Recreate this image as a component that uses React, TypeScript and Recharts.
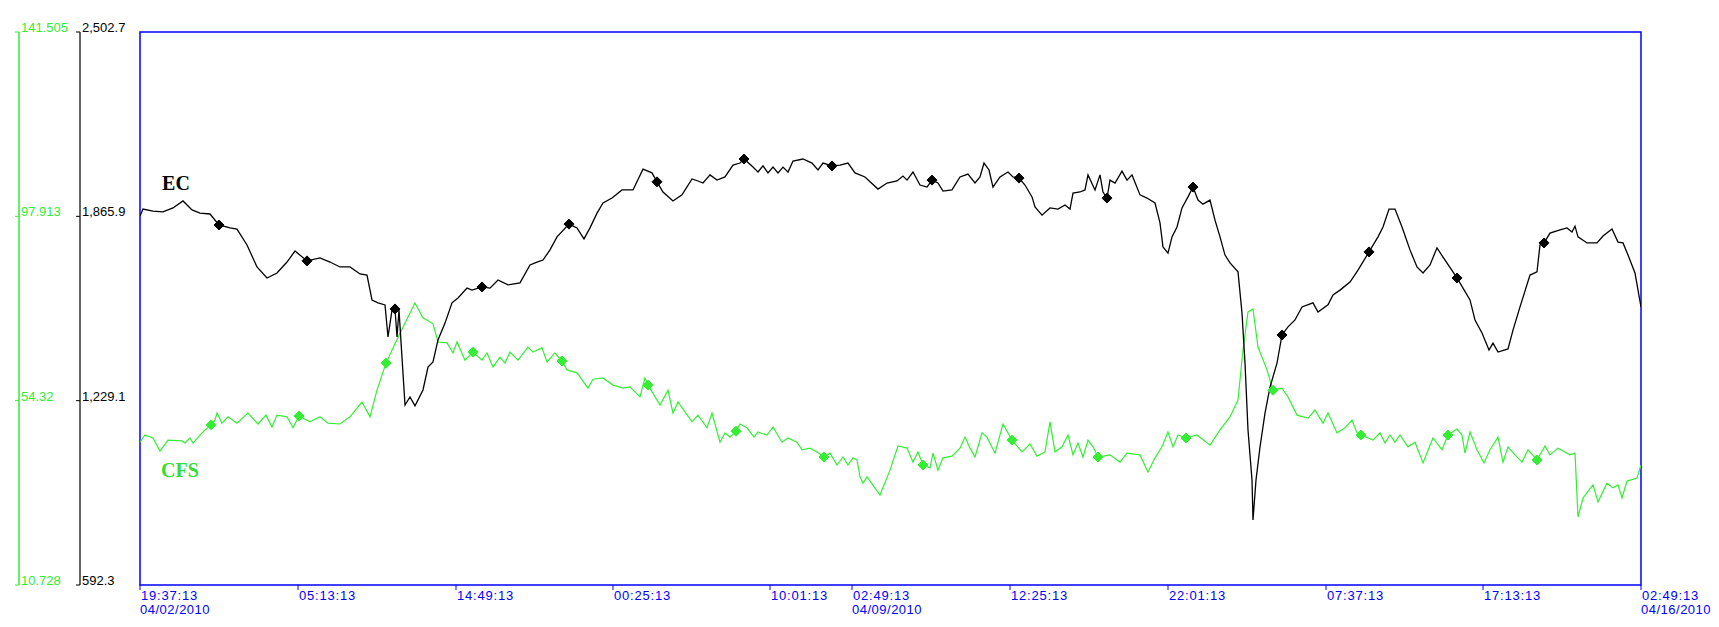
import React from 'react';
import {
  LineChart,
  Line,
  XAxis,
  YAxis,
  ReferenceArea,
  ReferenceDot,
} from 'recharts';

// sample position along the record, value
const ecReadings: [number, number][] = [
  [0, 1867], [3, 1891], [13, 1884], [23, 1881], [33, 1895], [43, 1919], [52, 1888], [60, 1877],
  [70, 1874], [79, 1836], [90, 1826], [97, 1822], [107, 1767], [117, 1691], [127, 1653], [137, 1670],
  [147, 1708], [155, 1746], [167, 1712], [180, 1722], [190, 1708], [200, 1691], [210, 1691], [220, 1667],
  [227, 1663], [232, 1577], [238, 1567], [245, 1560], [248, 1449], [252, 1542], [255, 1546], [257, 1449],
  [259, 1542], [265, 1214], [270, 1242], [275, 1211], [283, 1266], [288, 1345], [293, 1363], [298, 1439],
  [305, 1497], [312, 1567], [318, 1584], [327, 1618], [332, 1611], [342, 1622], [350, 1618], [358, 1646],
  [368, 1629], [380, 1636], [390, 1698], [397, 1708], [403, 1715], [410, 1750], [417, 1795], [429, 1839],
  [437, 1826], [444, 1788], [450, 1826], [457, 1877], [463, 1912], [472, 1929], [482, 1957], [493, 1957],
  [503, 2029], [512, 2016], [517, 1985], [523, 1950], [533, 1919], [542, 1940], [552, 1995], [558, 1988],
  [563, 1981], [570, 2009], [577, 1991], [585, 2002], [593, 2043], [600, 2050], [604, 2064], [613, 2036],
  [618, 2019], [623, 2040], [628, 2016], [633, 2036], [638, 2016], [643, 2036], [648, 2019], [653, 2057],
  [663, 2064], [672, 2050], [678, 2026], [683, 2050], [692, 2040], [700, 2043], [708, 2050], [715, 2016],
  [725, 2002], [738, 1960], [747, 1981], [757, 1988], [763, 2005], [767, 1991], [773, 2019], [780, 1974],
  [787, 1967], [792, 1991], [798, 1981], [803, 1953], [812, 1957], [820, 2002], [828, 2012], [835, 1981],
  [840, 2002], [844, 2050], [849, 2026], [853, 1967], [860, 2002], [868, 2019], [873, 2002], [879, 1998],
  [885, 1974], [892, 1933], [895, 1898], [902, 1870], [910, 1895], [918, 1891], [925, 1905], [930, 1891],
  [933, 1946], [940, 1950], [945, 1957], [948, 2009], [955, 1957], [960, 2009], [963, 1950], [967, 1929],
  [970, 1991], [975, 1981], [982, 2022], [987, 1991], [992, 2009], [1000, 1940], [1007, 1929], [1015, 1912],
  [1020, 1843], [1023, 1760], [1028, 1739], [1032, 1795], [1037, 1829], [1042, 1895], [1048, 1933], [1053, 1967],
  [1058, 1922], [1063, 1908], [1070, 1922], [1075, 1853], [1080, 1795], [1085, 1732], [1090, 1705], [1098, 1674],
  [1102, 1532], [1105, 1359], [1108, 1128], [1112, 955], [1113, 817], [1116, 955], [1120, 1069], [1125, 1186],
  [1130, 1276], [1137, 1359], [1142, 1456], [1148, 1484], [1155, 1508], [1162, 1553], [1173, 1567], [1178, 1535],
  [1188, 1560], [1193, 1594], [1200, 1611], [1210, 1639], [1218, 1680], [1229, 1743], [1238, 1795], [1243, 1829],
  [1249, 1891], [1255, 1891], [1262, 1829], [1270, 1750], [1277, 1691], [1283, 1670], [1290, 1698], [1297, 1757],
  [1303, 1725], [1317, 1653], [1330, 1577], [1335, 1508], [1342, 1463], [1349, 1404], [1353, 1428], [1358, 1397],
  [1368, 1408], [1373, 1473], [1380, 1553], [1390, 1663], [1397, 1674], [1400, 1767], [1404, 1774], [1410, 1808],
  [1420, 1819], [1427, 1826], [1432, 1812], [1435, 1832], [1438, 1795], [1447, 1774], [1457, 1774], [1463, 1798],
  [1472, 1822], [1478, 1777], [1483, 1774], [1488, 1732], [1495, 1670], [1501, 1553],
];

const cfsReadings: [number, number][] = [
  [0, 44.5], [5, 46.2], [13, 45.5], [20, 42.4], [28, 45.0], [42, 44.8], [45, 44.3], [50, 45.5],
  [53, 44.3], [62, 46.7], [71, 48.6], [75, 49.7], [77, 51.4], [82, 49.0], [88, 50.5], [97, 49.0],
  [108, 51.4], [118, 48.8], [126, 50.9], [132, 48.1], [137, 50.9], [147, 50.5], [153, 47.9], [159, 50.7],
  [170, 49.3], [180, 50.5], [188, 49.0], [200, 48.8], [210, 50.5], [222, 54.0], [230, 50.5], [237, 56.8],
  [246, 63.2], [253, 66.8], [263, 71.7], [275, 77.4], [283, 73.9], [293, 72.5], [298, 68.2], [307, 68.0],
  [313, 65.6], [317, 68.2], [325, 63.9], [333, 65.8], [342, 63.9], [347, 65.6], [353, 62.3], [360, 64.6],
  [365, 63.2], [370, 65.8], [378, 63.9], [388, 67.0], [393, 65.8], [402, 66.8], [407, 63.5], [415, 65.6],
  [422, 63.7], [427, 61.6], [437, 60.9], [448, 57.3], [453, 59.4], [463, 59.7], [473, 58.0], [483, 57.3],
  [490, 57.6], [500, 55.2], [505, 59.7], [508, 58.0], [520, 53.3], [528, 56.8], [533, 51.4], [538, 54.0],
  [552, 49.3], [558, 50.9], [567, 47.9], [572, 51.4], [580, 44.5], [585, 46.7], [590, 45.7], [596, 47.1],
  [600, 48.8], [607, 47.9], [614, 45.7], [618, 46.9], [627, 46.2], [633, 48.1], [642, 44.5], [648, 45.5],
  [657, 44.5], [662, 42.7], [670, 43.1], [677, 42.2], [684, 41.0], [690, 41.9], [697, 39.1], [703, 41.0],
  [708, 39.1], [713, 40.8], [717, 40.3], [720, 36.3], [723, 34.8], [727, 36.3], [740, 32.0], [750, 37.9],
  [758, 43.6], [767, 43.1], [773, 39.8], [778, 42.2], [783, 39.1], [790, 38.4], [793, 41.9], [798, 37.9],
  [803, 40.8], [812, 41.2], [820, 43.1], [825, 45.7], [830, 43.1], [835, 41.0], [842, 46.7], [847, 45.7],
  [855, 41.9], [863, 48.8], [872, 45.0], [882, 42.2], [890, 44.1], [897, 41.2], [905, 42.2], [910, 49.3],
  [915, 42.2], [922, 43.4], [928, 46.2], [933, 41.5], [938, 44.3], [943, 41.0], [948, 45.0], [953, 43.4],
  [958, 41.0], [970, 41.5], [980, 39.8], [987, 41.9], [1000, 41.5], [1008, 37.4], [1015, 40.8], [1022, 43.4],
  [1028, 46.9], [1033, 43.4], [1038, 46.2], [1046, 45.5], [1057, 46.2], [1070, 43.8], [1080, 47.4], [1090, 50.5],
  [1098, 54.5], [1103, 66.3], [1108, 75.3], [1113, 76.0], [1118, 67.0], [1127, 61.6], [1133, 56.8], [1142, 57.3],
  [1148, 55.2], [1157, 50.9], [1168, 50.2], [1175, 52.1], [1183, 49.0], [1188, 51.4], [1197, 46.7], [1205, 47.9],
  [1212, 49.7], [1217, 46.7], [1221, 46.2], [1233, 45.0], [1240, 46.7], [1245, 44.3], [1250, 46.2], [1255, 44.5],
  [1260, 46.2], [1268, 43.4], [1275, 44.5], [1283, 39.6], [1293, 45.5], [1302, 42.7], [1308, 46.2], [1317, 47.6],
  [1322, 46.2], [1325, 41.9], [1330, 46.9], [1337, 42.7], [1344, 39.6], [1350, 42.7], [1358, 45.7], [1363, 39.8],
  [1368, 43.4], [1375, 41.5], [1382, 39.8], [1388, 42.7], [1397, 40.3], [1405, 43.6], [1410, 41.5], [1418, 43.1],
  [1430, 41.5], [1435, 41.9], [1438, 26.8], [1443, 31.3], [1453, 34.4], [1458, 30.4], [1467, 34.8], [1473, 33.7],
  [1478, 34.4], [1482, 31.3], [1487, 35.3], [1497, 36.0], [1501, 39.1],
];

// samples that carry a diamond marker
const ecMarkers = [79, 167, 255, 342, 429, 517, 604, 692, 792, 879, 967, 1053, 1142, 1229, 1317, 1404];
const cfsMarkers = [71, 159, 246, 333, 422, 508, 596, 684, 783, 872, 958, 1046, 1133, 1221, 1308, 1397];

const xTicks = [0, 158, 316, 473, 630, 712, 870, 1028, 1186, 1343, 1501];
const xTimes = ['19:37:13', '05:13:13', '14:49:13', '00:25:13', '10:01:13', '02:49:13', '12:25:13', '22:01:13', '07:37:13', '17:13:13', '02:49:13'];
const xDates = ['04/02/2010', '', '', '', '', '04/09/2010', '', '', '', '', '04/16/2010'];

const ecTicks = [592.3, 1229.1, 1865.9, 2502.7];
const ecTickLabels = ['592.3', '1,229.1', '1,865.9', '2,502.7'];
const cfsTicks = [10.728, 54.32, 97.913, 141.505];
const cfsTickLabels = ['10.728', '54.32', '97.913', '141.505'];

const ecData = ecReadings.map(([t, v]) => ({ t, ec: v }));
const cfsData = cfsReadings.map(([t, v]) => ({ t, cfs: v }));

const BLUE = '#0000ff';
const GREEN = '#33ee33';
const AXIS_FONT = 'Arial, "Liberation Sans", sans-serif';

function makeDiamond(markers: number[], color: string) {
  return (props: any) => {
    const { cx, cy, payload, index } = props;
    if (!markers.includes(payload.t) || cx == null) return <g key={`d${index}`} />;
    const s = 5;
    return (
      <polygon
        key={`d${index}`}
        points={`${cx},${cy - s} ${cx + s},${cy} ${cx},${cy + s} ${cx - s},${cy}`}
        fill={color}
        stroke={color}
      />
    );
  };
}

function makeYTick(ticks: number[], labels: string[], color: string) {
  return (props: any) => {
    const { x, y, payload } = props;
    const i = ticks.indexOf(payload.value);
    return (
      <g>
        <line x1={x - 4} y1={y} x2={x} y2={y} stroke={color} />
        <text x={x + 2} y={y} fill={color} fontSize={13} fontFamily={AXIS_FONT}>
          {i >= 0 ? labels[i] : payload.value}
        </text>
      </g>
    );
  };
}

function XTick(props: any) {
  const { x, y, payload } = props;
  const i = xTicks.indexOf(payload.value);
  return (
    <g>
      <line x1={x} y1={y} x2={x} y2={y + 5} stroke={BLUE} />
      <text x={x + 1} y={y + 15} fill={BLUE} fontSize={13} letterSpacing={0.8} fontFamily={AXIS_FONT}>
        {xTimes[i]}
      </text>
      {xDates[i] && (
        <text x={x} y={y + 29} fill={BLUE} fontSize={13} letterSpacing={0.5} fontFamily={AXIS_FONT}>
          {xDates[i]}
        </text>
      )}
    </g>
  );
}

export default function App() {
  return (
    <div style={{ width: 1719, height: 627, background: '#fff' }}>
      <style>{'body{margin:0}'}</style>
      <LineChart width={1719} height={627} margin={{ top: 32, right: 78, bottom: 0, left: 0 }}>
        <XAxis
          type="number"
          dataKey="t"
          domain={[0, 1501]}
          ticks={xTicks}
          interval={0}
          height={42}
          axisLine={false}
          tickLine={false}
          tickSize={0}
          tickMargin={0}
          tick={<XTick />}
          allowDataOverflow
        />
        {/* left axes: ids chosen so the spacer sits next to the plot, CFS outermost */}
        <YAxis
          yAxisId="c_cfs"
          width={19}
          domain={[10.728, 141.505]}
          ticks={cfsTicks}
          interval={0}
          axisLine={{ stroke: GREEN, strokeWidth: 1.5 }}
          tickLine={false}
          tickSize={0}
          tickMargin={0}
          tick={makeYTick(cfsTicks, cfsTickLabels, GREEN)}
          allowDataOverflow
        />
        <YAxis
          yAxisId="b_ec"
          width={61}
          domain={[592.3, 2502.7]}
          ticks={ecTicks}
          interval={0}
          axisLine={{ stroke: '#333333', strokeWidth: 1.5 }}
          tickLine={false}
          tickSize={0}
          tickMargin={0}
          tick={makeYTick(ecTicks, ecTickLabels, '#000000')}
          allowDataOverflow
        />
        <YAxis yAxisId="a_pad" width={60} domain={[0, 1]} axisLine={false} tickLine={false} tick={false} />
        <ReferenceArea
          yAxisId="b_ec"
          x1={0}
          x2={1501}
          y1={592.3}
          y2={2502.7}
          fill="none"
          fillOpacity={0}
          stroke={BLUE}
          strokeWidth={1.5}
          ifOverflow="visible"
        />
        <Line
          yAxisId="c_cfs"
          data={cfsData}
          dataKey="cfs"
          type="linear"
          stroke={GREEN}
          strokeWidth={1.2}
          dot={makeDiamond(cfsMarkers, GREEN)}
          activeDot={false}
          isAnimationActive={false}
        />
        <Line
          yAxisId="b_ec"
          data={ecData}
          dataKey="ec"
          type="linear"
          stroke="#000000"
          strokeWidth={1.3}
          dot={makeDiamond(ecMarkers, '#000000')}
          activeDot={false}
          isAnimationActive={false}
        />
        <ReferenceDot
          yAxisId="b_ec"
          x={36}
          y={1981}
          r={0}
          stroke="none"
          label={{ value: 'EC', position: 'center', fill: '#000', fontSize: 20, fontWeight: 'bold', fontFamily: '"Liberation Serif", serif' }}
        />
        <ReferenceDot
          yAxisId="c_cfs"
          x={40}
          y={37.9}
          r={0}
          stroke="none"
          label={{ value: 'CFS', position: 'center', fill: '#33dd33', fontSize: 20, fontWeight: 'bold', fontFamily: '"Liberation Serif", serif' }}
        />
      </LineChart>
    </div>
  );
}
